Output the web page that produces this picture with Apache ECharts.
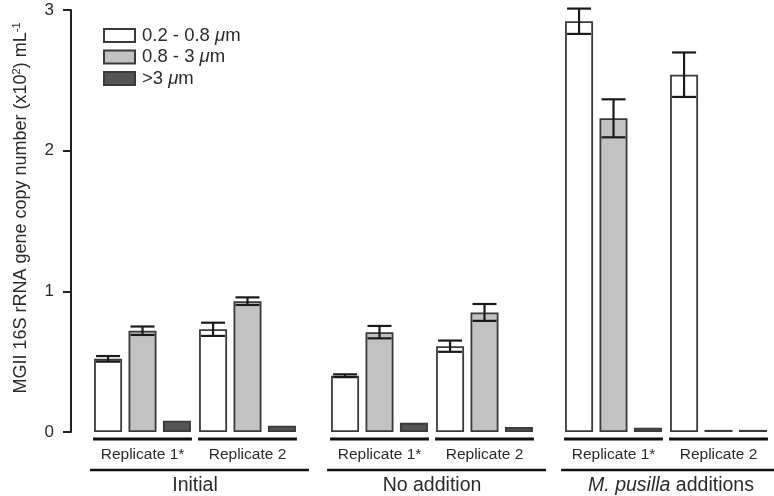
<!DOCTYPE html>
<html>
<head>
<meta charset="utf-8">
<script src="https://cdn.jsdelivr.net/npm/echarts@6/dist/echarts.min.js"></script>
<style>html,body{margin:0;padding:0;background:#fff;}#c{width:774px;height:496px;}</style>
</head>
<body>
<div id="c"></div>
<script>
// ---- data ----
var groups = ['Initial', 'No addition', 'M. pusilla additions'];
var replicates = ['Replicate 1*', 'Replicate 2'];
var sizeClasses = ['0.2 - 0.8 μm', '0.8 - 3 μm', '>3 μm'];
// values per size class, ordered [Initial R1, Initial R2, NoAdd R1, NoAdd R2, Mp R1, Mp R2]
var small = [0.52, 0.73, 0.40, 0.61, 2.92, 2.54];
var mid = [0.72, 0.93, 0.71, 0.85, 2.23, 0.015];
var large = [0.08, 0.045, 0.065, 0.035, 0.03, 0.015];
var smallErr = [0.02, 0.047, 0.01, 0.04, 0.09, 0.158];
var midErr = [0.03, 0.027, 0.044, 0.06, 0.135, 0];
var largeErr = [0, 0, 0, 0, 0, 0];
var yTicks = [0, 1, 2, 3];

// ---- styles ----
var FONT = "'Liberation Sans', Arial, Helvetica, sans-serif";
var TXT = '#2a2a2a';
var fills = ['#ffffff', '#c2c2c2', '#555555'];
var BAR_W = 28, BAR_GAP = 0.23;
var STEP = BAR_W * (1 + BAR_GAP);
var gridLefts = [90, 327, 561];
var GRID_W = 210, GRID_TOP = 10, GRID_BOTTOM = 64;

var values = [small, mid, large];
var errs = [smallErr, midErr, largeErr];

var chart = echarts.init(document.getElementById('c'), null, {renderer: 'canvas'});

var grids = [], xAxes = [], yAxes = [], series = [];
groups.forEach(function (g, gi) {
  grids.push({left: gridLefts[gi], width: GRID_W, top: GRID_TOP, bottom: GRID_BOTTOM});
  xAxes.push({
    type: 'category', gridIndex: gi, data: replicates,
    axisLine: {show: false}, axisTick: {show: false}, axisLabel: {show: false}
  });
  yAxes.push({
    type: 'value', gridIndex: gi, min: yTicks[0], max: yTicks[yTicks.length - 1], interval: 1,
    show: gi === 0, offset: 19,
    splitLine: {show: false},
    axisLine: {show: true, lineStyle: {color: '#222', width: 2}},
    axisTick: {show: true, length: 8, lineStyle: {color: '#222', width: 2}},
    axisLabel: {fontSize: 17, color: TXT, fontFamily: FONT, margin: 17}
  });
  sizeClasses.forEach(function (sc, si) {
    series.push({
      type: 'bar', name: sc, xAxisIndex: gi, yAxisIndex: gi,
      barWidth: BAR_W, barGap: (BAR_GAP * 100) + '%',
      data: [values[si][gi * 2], values[si][gi * 2 + 1]],
      itemStyle: {color: fills[si], borderColor: '#3a3a3a', borderWidth: 1.8},
      emphasis: {disabled: true}, animation: false, z: 2
    });
  });
  var errData = [];
  sizeClasses.forEach(function (sc, si) {
    for (var r = 0; r < 2; r++) {
      var e = errs[si][gi * 2 + r];
      if (e > 0) errData.push([r, si, values[si][gi * 2 + r], e]);
    }
  });
  series.push({
    type: 'custom', xAxisIndex: gi, yAxisIndex: gi, data: errData, z: 5, animation: false,
    renderItem: function (params, api) {
      var r = api.value(0), si = api.value(1), v = api.value(2), e = api.value(3);
      var c = api.coord([r, v]);
      var x = c[0] + (si - 1) * STEP;
      var top = api.coord([r, v + e])[1];
      var bot = api.coord([r, v - e])[1];
      var hw = 12;
      var st = {stroke: '#1a1a1a', lineWidth: 2.2};
      return {type: 'group', children: [
        {type: 'line', shape: {x1: x, y1: top, x2: x, y2: bot}, style: st},
        {type: 'line', shape: {x1: x - hw, y1: top, x2: x + hw, y2: top}, style: st},
        {type: 'line', shape: {x1: x - hw, y1: bot, x2: x + hw, y2: bot}, style: st}
      ]};
    }
  });
});

var option = {
  backgroundColor: '#fff',
  animation: false,
  grid: grids, xAxis: xAxes, yAxis: yAxes, series: series,
  legend: {
    data: sizeClasses, orient: 'vertical', left: 98, top: 21, icon: 'rect',
    itemWidth: 31, itemHeight: 13, itemGap: 2.5, selectedMode: false,
    textStyle: {fontSize: 18.5, color: TXT, fontFamily: FONT, lineHeight: 18, padding: [0, 0, 0, 2],
      rich: {i: {fontStyle: 'italic', fontSize: 18.5, color: TXT, fontFamily: FONT, lineHeight: 18}}},
    formatter: function (n) { return n.replace('μ', '{i|μ}'); }
  }
};
chart.setOption(option);

// ---- decoration: replicate/group underlines and labels, y-axis title ----
var gfx = [];
var y0 = chart.convertToPixel({yAxisIndex: 0}, 0);
groups.forEach(function (g, gi) {
  var cs = [0, 1].map(function (r) { return chart.convertToPixel({xAxisIndex: gi}, r); });
  var half = STEP + BAR_W / 2 + 1;
  cs.forEach(function (c, r) {
    gfx.push({type: 'line', shape: {x1: c - half, y1: y0 + 7, x2: c + half, y2: y0 + 7},
      style: {stroke: '#111', lineWidth: 3}, silent: true});
    gfx.push({type: 'text', x: c, y: y0 + 23, silent: true,
      style: {text: replicates[r], fontSize: 15.5, fill: TXT, fontFamily: FONT,
        align: 'center', verticalAlign: 'middle'}});
  });
  var gl = cs[0] - half - 3, gr = Math.min(cs[1] + half + 12, 774);
  gfx.push({type: 'line', shape: {x1: gl, y1: y0 + 38, x2: gr, y2: y0 + 38},
    style: {stroke: '#111', lineWidth: 2.5}, silent: true});
  var lbl = g === 'M. pusilla additions' ? '{i|M. pusilla} additions' : g;
  gfx.push({type: 'text', x: (cs[0] + cs[1]) / 2 + (gi === 2 ? 5 : 0), y: y0 + 54, silent: true,
    style: {text: lbl, fontSize: 19.5, fill: TXT, fontFamily: FONT, align: 'center', verticalAlign: 'middle',
      rich: {i: {fontStyle: 'italic', fontSize: 19.5, fill: TXT, fontFamily: FONT}}}});
});
gfx.push({type: 'text', x: 21, y: 208, rotation: Math.PI / 2, silent: true,
  style: {text: 'MGII 16S rRNA gene copy number (x10{s|2}) mL{s|-1}', fontSize: 18, fill: TXT,
    fontFamily: FONT, align: 'center', verticalAlign: 'middle',
    rich: {s: {fontSize: 11, fill: TXT, fontFamily: FONT, verticalAlign: 'top', padding: [0, 0, 9, 0]}}}});
chart.setOption({graphic: gfx});
</script>
</body>
</html>
